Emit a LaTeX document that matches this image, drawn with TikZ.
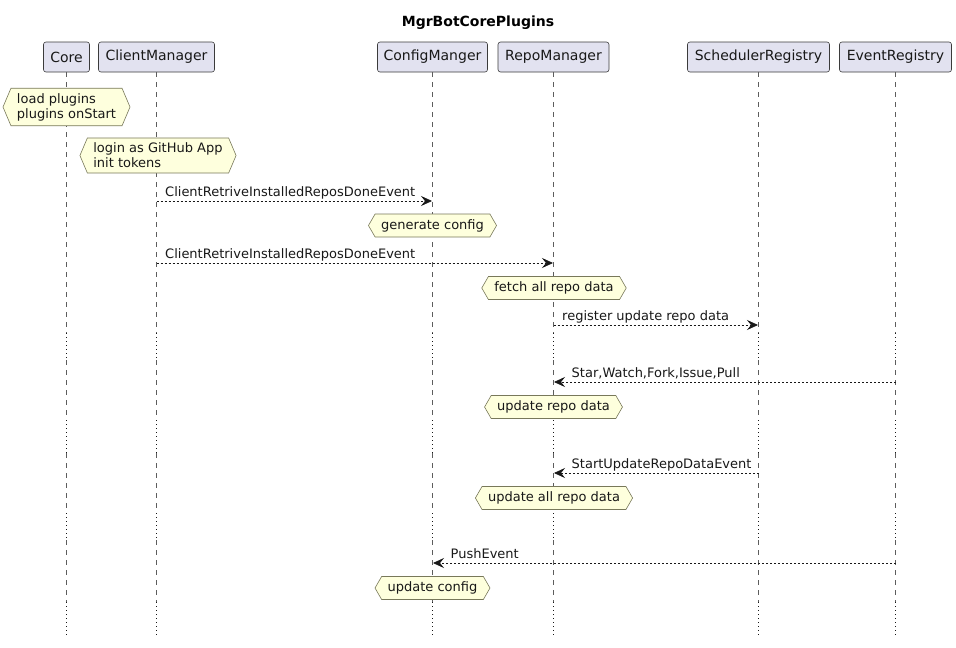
\documentclass[tikz,border=0pt]{standalone}
\usepackage{fontspec}
\setmainfont{DejaVu Sans}
\usetikzlibrary{arrows.meta,shapes.symbols}

\definecolor{partfill}{HTML}{E2E2F0}
\definecolor{notefill}{HTML}{FEFFDD}
\definecolor{noteline}{RGB}{120,120,90}
\definecolor{ink}{HTML}{181818}

\begin{document}
\begin{tikzpicture}[x=1pt,y=-1pt,
  participant/.style={draw=ink!85, fill=partfill, rounded corners=2.5pt, line width=0.6pt, minimum height=30pt, inner xsep=0pt, font=\fontsize{14}{16}\selectfont, text=ink},
  lifeline/.style={draw=ink!70, line width=0.6pt, dash pattern=on 5pt off 5pt},
  delayline/.style={draw=ink, line width=0.7pt, dash pattern=on 1pt off 3pt},
  hexnote/.style={signal, signal to=west and east, draw=noteline, fill=notefill, line width=0.6pt, font=\fontsize{13}{15}\selectfont, text=ink, inner xsep=6pt, inner ysep=5pt, minimum height=23pt, align=left, signal pointer angle=120},
  hextwo/.style={hexnote, signal pointer angle=134},
  msg/.style={draw=ink, line width=0.7pt, dash pattern=on 2pt off 2pt, -{Stealth[length=11pt,width=10pt,inset=4pt]}, shorten >=0.5pt},
  msglabel/.style={anchor=base west, inner sep=0pt, font=\fontsize{13}{15}\selectfont, text=ink},
]
\useasboundingbox (0,0) rectangle (956,648);

% title
\node[font=\fontsize{14}{16}\selectfont\bfseries, text=black] (title) at (478,23) {MgrBotCorePlugins};

% participants
\node[participant, minimum width=46pt]  (core)  at (66.5,57)  {Core};
\node[participant, minimum width=116pt] (cm)    at (156.5,57) {ClientManager};
\node[participant, minimum width=110pt] (cfg)   at (432.5,57) {ConfigManger};
\node[participant, minimum width=111pt] (repo)  at (553.5,57) {RepoManager};
\node[participant, minimum width=142pt] (sched) at (758.5,57) {SchedulerRegistry};
\node[participant, minimum width=112pt] (evt)   at (895.5,57) {EventRegistry};

% lifelines with delays
\foreach \p in {core,cm,cfg,repo,sched,evt} {
  \draw[lifeline]  (\p.south) -- (\p.south |- 0,333);
  \draw[delayline] (\p.south |- 0,333) -- (\p.south |- 0,360);
  \draw[lifeline]  (\p.south |- 0,360) -- (\p.south |- 0,420);
  \draw[delayline] (\p.south |- 0,420) -- (\p.south |- 0,453);
  \draw[lifeline]  (\p.south |- 0,453) -- (\p.south |- 0,513);
  \draw[delayline] (\p.south |- 0,513) -- (\p.south |- 0,540);
  \draw[lifeline]  (\p.south |- 0,540) -- (\p.south |- 0,602);
  \draw[delayline] (\p.south |- 0,602) -- (\p.south |- 0,637);
}

% messages
\draw[msg] (cm.south |- 0,201) -- (cfg.south |- 0,201);
\node[msglabel] (l1) at (165,196) {ClientRetriveInstalledReposDoneEvent};

\draw[msg] (cm.south |- 0,263) -- (repo.south |- 0,263);
\node[msglabel] (l2) at (165,258) {ClientRetriveInstalledReposDoneEvent};

\draw[msg] (repo.south |- 0,325) -- (sched.south |- 0,325);
\node[msglabel] (l3) at (562,320) {register update repo data};

\draw[msg] (evt.south |- 0,382) -- (repo.south |- 0,382);
\node[msglabel] (l4) at (571.5,377) {Star,Watch,Fork,Issue,Pull};

\draw[msg] (sched.south |- 0,473) -- (repo.south |- 0,473);
\node[msglabel] (l5) at (571.5,468) {StartUpdateRepoDataEvent};

\draw[msg] (evt.south |- 0,563) -- (cfg.south |- 0,563);
\node[msglabel] (l6) at (450.5,558) {PushEvent};

% hexagon notes
\node[hextwo] (h1) at (66.5,107)  {load plugins\\plugins onStart};
\node[hextwo] (h2) at (158,155.5) {login as GitHub App\\init tokens};
\node[hexnote] (h3) at (432.5,225.5) {generate config};
\node[hexnote] (h4) at (554,288)  {fetch all repo data};
\node[hexnote] (h5) at (553.5,407) {update repo data};
\node[hexnote] (h6) at (554,498)  {update all repo data};
\node[hexnote] (h7) at (432.5,588) {update config};
\end{tikzpicture}
\end{document}
